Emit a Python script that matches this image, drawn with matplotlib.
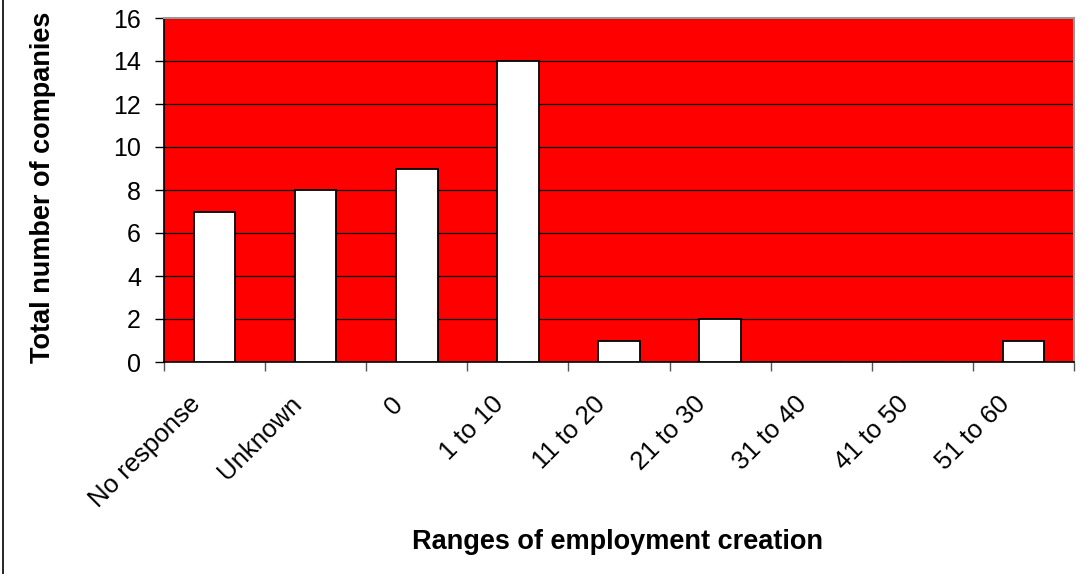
import matplotlib
matplotlib.use("Agg")
import matplotlib.pyplot as plt
from matplotlib.lines import Line2D

categories = ["No response", "Unknown", "0", "1 to 10", "11 to 20", "21 to 30",
              "31 to 40", "41 to 50", "51 to 60"]
counts = [7, 8, 9, 14, 1, 2, 0, 0, 1]
y_ticks = [0, 2, 4, 6, 8, 10, 12, 14, 16]

plt.rcParams['font.family'] = ['Liberation Sans', 'DejaVu Sans']

fig = plt.figure(figsize=(10.89, 5.74), dpi=100)
ax = fig.add_axes([164/1089, 1-362/574, (1074-164)/1089, (362-18)/574])
ax.set_facecolor('#ff0000')

x = list(range(len(categories)))
ax.bar(x, counts, width=0.41, color='white', edgecolor='black', linewidth=1.3, zorder=3)

ax.set_xlim(-0.5, len(categories) - 0.5)
ax.set_ylim(0, 16)
ax.set_yticks(y_ticks)
ax.set_yticklabels([str(v) for v in y_ticks], fontsize=18)
ax.yaxis.grid(True, color='black', linewidth=0.9, zorder=1)
ax.set_axisbelow(True)

# ticks at category boundaries
ax.set_xticks([i - 0.5 for i in range(len(categories) + 1)])
ax.set_xticklabels([])
ax.tick_params(axis='x', length=6.5, color='#555555', width=1)
ax.tick_params(axis='y', length=6.5, color='black', width=1, pad=10)
for i, lab in enumerate(categories):
    ax.text(i - 0.26, -1.4, lab, rotation=45, ha='right', va='top',
            rotation_mode='anchor', fontsize=18.5, transform=ax.transData)

for s in ['left', 'bottom']:
    ax.spines[s].set_color('black')
    ax.spines[s].set_linewidth(1.2)
for s in ['top', 'right']:
    ax.spines[s].set_color('#999999')
    ax.spines[s].set_linewidth(1.5)

fig.text(43/1089, 1 - 187.5/574, "Total number of companies", rotation=90,
         ha='center', va='center', fontsize=19.5, fontweight='bold')
fig.text(618/1089, 1 - 542/574, "Ranges of employment creation",
         ha='center', va='center', fontsize=19.5, fontweight='bold')

fig.add_artist(Line2D([2.5/1089, 2.5/1089], [0, 1], color='black', linewidth=1.2,
                      transform=fig.transFigure))

fig.savefig("out.png", dpi=100)
